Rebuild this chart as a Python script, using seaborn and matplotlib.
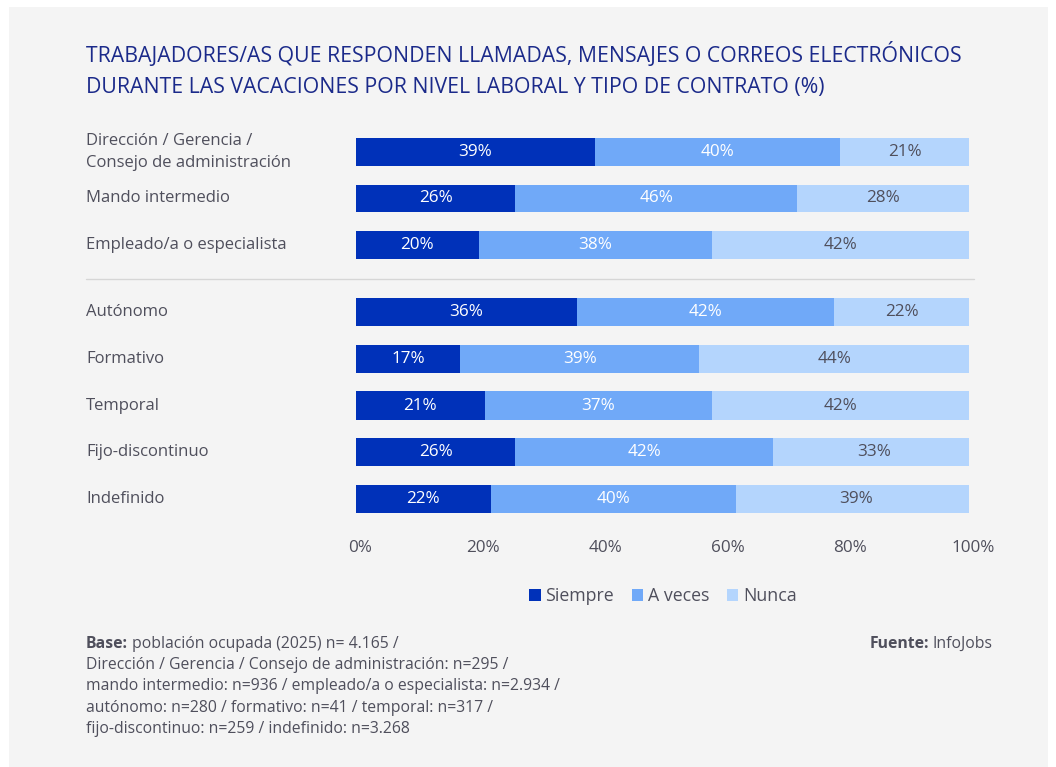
import matplotlib
matplotlib.use("Agg")
import matplotlib.pyplot as plt
import matplotlib.transforms as mtransforms
from matplotlib.patches import Rectangle
from matplotlib.lines import Line2D
import seaborn as sns
import pandas as pd

# ---- data -------------------------------------------------------------
nivel_cats = ["Dirección / Gerencia /\nConsejo de administración",
              "Mando intermedio",
              "Empleado/a o especialista"]
nivel_siempre = [39, 26, 20]
nivel_aveces = [40, 46, 38]
nivel_nunca = [21, 28, 42]

contrato_cats = ["Autónomo", "Formativo", "Temporal", "Fijo-discontinuo", "Indefinido"]
contrato_siempre = [36, 17, 21, 26, 22]
contrato_aveces = [42, 39, 37, 42, 40]
contrato_nunca = [22, 44, 42, 33, 39]

series_names = ["Siempre", "A veces", "Nunca"]
colors = ["#0031B9", "#70A9F8", "#B4D5FD"]
label_colors = ["white", "white", "#4F4F5C"]
x_ticks = [0, 20, 40, 60, 80, 100]

title = ("TRABAJADORES/AS QUE RESPONDEN LLAMADAS, MENSAJES O CORREOS ELECTRÓNICOS\n"
         "DURANTE LAS VACACIONES POR NIVEL LABORAL Y TIPO DE CONTRATO (%)")

foot_lines = ["población ocupada (2025) n= 4.165 /",
              "Dirección / Gerencia / Consejo de administración: n=295 /",
              "mando intermedio: n=936 / empleado/a o especialista: n=2.934 /",
              "autónomo: n=280 / formativo: n=41 / temporal: n=317 /",
              "fijo-discontinuo: n=259 / indefinido: n=3.268"]

# ---- style ------------------------------------------------------------
sns.set_theme(style="white")
plt.rcParams["font.family"] = ["Open Sans", "DejaVu Sans"]
TEXT = "#4F4F5C"
PANEL = "#F4F4F4"

W, H = 1056, 767
fig = plt.figure(figsize=(W / 100, H / 100), dpi=100)
fig.patch.set_facecolor("white")
fig.patches.append(Rectangle((9 / W, 0), (1048 - 9) / W, (H - 7) / H,
                             transform=fig.transFigure, facecolor=PANEL,
                             edgecolor="none", zorder=-10))

x0, x1 = 356 / W, 969 / W


def ax_rect(top_px, bottom_px):
    return [x0, 1 - bottom_px / H, x1 - x0, (bottom_px - top_px) / H]


ax_top = fig.add_axes(ax_rect(128.75, 268.25))
ax_bot = fig.add_axes(ax_rect(288.6, 522.4))


def stacked(ax, cats, s, a, n):
    df = pd.DataFrame({"cat": cats, "Siempre": s, "A veces": a, "Nunca": n})
    df["c1"] = df["Siempre"]
    df["c2"] = df["Siempre"] + df["A veces"]
    df["c3"] = df["c2"] + df["Nunca"]
    # cumulative totals drawn longest first so each segment stays visible
    for col, color in zip(["c3", "c2", "c1"], colors[::-1]):
        sns.barplot(data=df, x=col, y="cat", orient="h", color=color,
                    width=0.6, saturation=1, ax=ax, linewidth=0)
    # segment value labels
    for i, row in df.iterrows():
        left = 0
        for name, lc in zip(series_names, label_colors):
            v = row[name]
            ax.text(left + v / 2, i, f"{v}%", ha="center", va="center",
                    color=lc, fontsize=12.3)
            left += v
    ax.set_xlim(0, 100)
    ax.set_ylim(len(cats) - 0.5, -0.5)
    ax.set_facecolor("none")
    ax.set_xlabel("")
    ax.set_ylabel("")
    ax.set_xticks([])
    ax.set_yticks([])
    sns.despine(ax=ax, left=True, bottom=True)
    # category names, left aligned in the margin
    lab_tr = mtransforms.blended_transform_factory(fig.transFigure, ax.transData)
    for i, c in enumerate(cats):
        ax.text(86 / W, i, c, transform=lab_tr, ha="left", va="center",
                color=TEXT, fontsize=12, linespacing=1.5)


stacked(ax_top, nivel_cats, nivel_siempre, nivel_aveces, nivel_nunca)
stacked(ax_bot, contrato_cats, contrato_siempre, contrato_aveces, contrato_nunca)

# percentage scale under the lower group
tick_tr = mtransforms.blended_transform_factory(ax_bot.transData, fig.transFigure) + \
    mtransforms.ScaledTranslation(4 / 100, 0, fig.dpi_scale_trans)
for t in x_ticks:
    ax_bot.text(t, 1 - 548 / H, f"{t}%", ha="center", va="center", color=TEXT,
                fontsize=12.3, transform=tick_tr)

# separator between the two groups
fig.add_artist(Line2D([86 / W, 974 / W], [1 - 279 / H, 1 - 279 / H],
                      transform=fig.transFigure, color="#D6D6D6", linewidth=1))

# title
fig.text(86 / W, 1 - 42 / H, title, ha="left", va="top", color="#1B2A8A",
         fontsize=15.3, linespacing=1.62)

# legend
handles = [Rectangle((0, 0), 1, 1, facecolor=c, edgecolor="none") for c in colors]
fig.legend(handles, series_names, loc="center", bbox_to_anchor=(663 / W, 1 - 596 / H),
           ncol=3, frameon=False, fontsize=12.8, handlelength=0.65, handleheight=0.65,
           handletextpad=0.25, columnspacing=1.0, labelcolor=TEXT)

# footnotes
FS = 11.3
foot_y = [644, 665, 686, 708, 729]
b = fig.text(86 / W, 1 - foot_y[0] / H, "Base:", ha="left", va="center",
             color=TEXT, fontsize=FS, fontweight="bold")
fig.canvas.draw()
bb = b.get_window_extent()
fig.text((bb.x1 + 4) / W, 1 - foot_y[0] / H, foot_lines[0], ha="left",
         va="center", color=TEXT, fontsize=FS)
for y, line in zip(foot_y[1:], foot_lines[1:]):
    fig.text(86 / W, 1 - y / H, line, ha="left", va="center", color=TEXT, fontsize=FS)

src = fig.text(993 / W, 1 - foot_y[0] / H, "InfoJobs", ha="right", va="center",
               color=TEXT, fontsize=FS)
fig.canvas.draw()
sb = src.get_window_extent()
fig.text((sb.x0 - 4) / W, 1 - foot_y[0] / H, "Fuente:", ha="right", va="center",
         color=TEXT, fontsize=FS, fontweight="bold")

fig.savefig("out.png", dpi=100, facecolor=fig.get_facecolor())
